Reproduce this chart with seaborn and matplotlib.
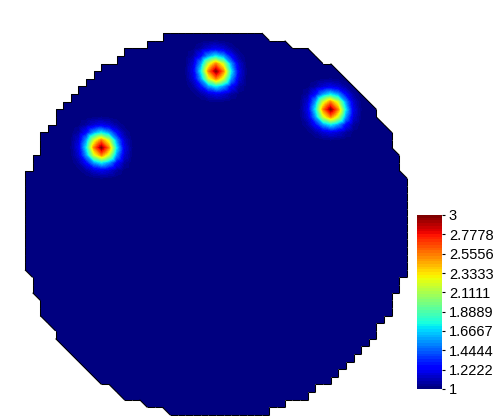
import numpy as np
import seaborn as sns
import matplotlib
matplotlib.use('Agg')
import matplotlib.pyplot as plt
import matplotlib.tri as mtri
from matplotlib.collections import LineCollection

# mesh: square grid of nodes -25..25 (step 1), every square cut in 2 triangles
# a node is inside when r^2 < disk_r2 (ties on the circle go to the x*y<0 side);
# a triangle is drawn only when its three nodes are inside
n_half = 25
disk_r2 = 674

# three bumps on a flat background (node units)
bump_x = [-15, 0, 15]
bump_y = [10, 20, 15]
bump_peak = [3, 3, 3]
base_val = 1
bump_sigma = 1.4

cbar_labels = ['1', '1.2222', '1.4444', '1.6667', '1.8889',
               '2.1111', '2.3333', '2.5556', '2.7778', '3']
cbar_ticks = [float(s) for s in cbar_labels]

sns.set_style('white')
plt.rcParams['font.family'] = ['Liberation Sans', 'DejaVu Sans']

# build triangulation
idx = np.arange(-n_half, n_half + 1)
X, Y = np.meshgrid(idx, idx)
x = X.ravel().astype(float)
y = Y.ravel().astype(float)
inside = x ** 2 + y ** 2 + 1e-6 * x * y < disk_r2
m = len(idx)
tris = []
for j in range(m - 1):
    for i in range(m - 1):
        a = j * m + i
        b = a + 1
        c = a + m
        d = c + 1
        for t in ([a, b, c], [b, d, c]):
            if inside[t].all():
                tris.append(t)
tris = np.array(tris)
tri = mtri.Triangulation(x, y, tris)

# node values
z = np.full(x.shape, float(base_val))
for bx, by, bp in zip(bump_x, bump_y, bump_peak):
    z += (bp - base_val) * np.exp(-((x - bx) ** 2 + (y - by) ** 2) / (2 * bump_sigma ** 2))

# linear interpolation on a pixel sized grid, rows from top to bottom
npix = 382
step = 2 * n_half / npix
gx = -n_half + (np.arange(npix) + 0.5) * step
gy = n_half - (np.arange(npix) + 0.5) * step
GX, GY = np.meshgrid(gx, gy)
zi = mtri.LinearTriInterpolator(tri, z)(GX, GY)
field = np.ma.filled(zi.astype(float), np.nan)

# outline = edges used by only one triangle (in heatmap cell coords)
edge_count = {}
for t in tris:
    for e in ((t[0], t[1]), (t[1], t[2]), (t[2], t[0])):
        k = tuple(sorted(e))
        edge_count[k] = edge_count.get(k, 0) + 1
def to_cell(px, py):
    return ((px + n_half) / step, (n_half - py) / step)
segs = [[to_cell(x[p], y[p]), to_cell(x[q], y[q])]
        for (p, q), n in edge_count.items() if n == 1]

cmap = plt.get_cmap('jet', 64)

fig = plt.figure(figsize=(4.93, 4.16), dpi=100)
ax = fig.add_axes([25 / 493, 1 / 416, 382 / 493, 382 / 416])
cax = fig.add_axes([417 / 493, (416 - 389) / 416, 25 / 493, 174 / 416])
sns.heatmap(field, ax=ax, cmap=cmap, vmin=1, vmax=3, square=True,
            xticklabels=False, yticklabels=False,
            cbar=True, cbar_ax=cax, cbar_kws={'ticks': cbar_ticks})
ax.add_collection(LineCollection(segs, colors='black', linewidths=0.75,
                                 capstyle='butt', clip_on=False))
ax.set_xlim(0, npix)
ax.set_ylim(npix, 0)
ax.axis('off')

cb = ax.collections[0].colorbar
cb.set_ticklabels(cbar_labels)
cb.outline.set_visible(False)
cax.tick_params(length=2, width=0.8, labelsize=10.5, pad=3, colors='black')

fig.savefig('out.png', dpi=100)
